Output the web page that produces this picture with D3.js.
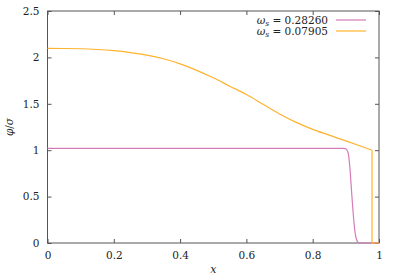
<!DOCTYPE html>
<html>
<head>
<meta charset="utf-8">
<script src="https://cdn.jsdelivr.net/npm/d3@7"></script>
<style>
  body { margin: 0; background: #fff; }
  svg { display: block; }
  svg text { font-family: "DejaVu Serif", "Liberation Serif", serif !important; fill: #222; }
</style>
</head>
<body>
<svg id="chart" width="399" height="279"></svg>
<script>
// series
const pinkX = [0, 0.5, 0.89, 0.898, 0.903, 0.908, 0.912, 0.916, 0.92, 0.924, 0.928, 0.932, 0.936, 0.94, 0.97, 1];
const pinkY = [1.02, 1.02, 1.02, 1.017, 1.005, 0.95, 0.82, 0.62, 0.42, 0.24, 0.11, 0.04, 0.01, 0, 0, 0];

const orangeX = [0, 0.05, 0.1, 0.15, 0.2, 0.25, 0.3, 0.35, 0.4, 0.45, 0.5, 0.55, 0.6, 0.65, 0.7, 0.75, 0.8, 0.85, 0.9, 0.95, 0.979];
const orangeY = [2.097, 2.096, 2.093, 2.085, 2.072, 2.052, 2.025, 1.985, 1.93, 1.86, 1.78, 1.69, 1.60, 1.495, 1.39, 1.30, 1.225, 1.162, 1.10, 1.037, 1.00];
// drop to zero at the edge
const orangeTailX = [0.979, 0.979, 1];
const orangeTailY = [1.00, 0, 0];

const xTicks = [0, 0.2, 0.4, 0.6, 0.8, 1];
const yTicks = [0, 0.5, 1, 1.5, 2, 2.5];

const legendLabels = ["0.28260", "0.07905"];
const colors = ["#d57bb8", "#ffb22e"];

const svg = d3.select('#chart');
const margin = { top: 11, right: 20, bottom: 36, left: 47.5 };
const width = 399 - margin.left - margin.right;
const height = 279 - margin.top - margin.bottom;

const x = d3.scaleLinear().domain([0, 1]).range([0, width]);
const y = d3.scaleLinear().domain([0, 2.5]).range([height, 0]);

const g = svg.append('g')
    .attr('transform', `translate(${margin.left},${margin.top})`);

const fmt = d => d3.format('')(d);
const serif = '"DejaVu Serif", "Liberation Serif", serif';

// axes with inward ticks on all four sides
const axisStyle = sel => {
    sel.attr('font-family', serif);
    sel.select('.domain').remove();
    sel.selectAll('line').attr('stroke', '#555');
    sel.selectAll('text').style('font-size', '10.5px').style('font-family', serif).attr('fill', '#222');
};

g.append('g')
    .attr('transform', `translate(0,${height})`)
    .call(d3.axisBottom(x).tickValues(xTicks).tickFormat(fmt).tickSize(-4).tickPadding(9))
    .call(axisStyle);

g.append('g')
    .call(d3.axisTop(x).tickValues(xTicks).tickFormat('').tickSize(-4))
    .call(axisStyle);

g.append('g')
    .call(d3.axisLeft(y).tickValues(yTicks).tickFormat(fmt).tickSize(-4).tickPadding(8))
    .call(axisStyle);

g.append('g')
    .attr('transform', `translate(${width},0)`)
    .call(d3.axisRight(y).tickValues(yTicks).tickFormat('').tickSize(-4))
    .call(axisStyle);

g.append('rect')
    .attr('width', width)
    .attr('height', height)
    .attr('fill', 'none')
    .attr('stroke', '#555')
    .attr('stroke-width', 1);

const line = d3.line()
    .x(d => x(d[0]))
    .y(d => y(d[1]));

g.append('path')
    .datum(d3.zip(pinkX, pinkY))
    .attr('fill', 'none')
    .attr('stroke', colors[0])
    .attr('stroke-width', 1.2)
    .attr('d', line.curve(d3.curveMonotoneX));

g.append('path')
    .datum(d3.zip(orangeX, orangeY))
    .attr('fill', 'none')
    .attr('stroke', colors[1])
    .attr('stroke-width', 1.2)
    .attr('d', line.curve(d3.curveMonotoneX));

g.append('path')
    .datum(d3.zip(orangeTailX, orangeTailY))
    .attr('fill', 'none')
    .attr('stroke', colors[1])
    .attr('stroke-width', 1.2)
    .attr('d', line.curve(d3.curveLinear));

// legend
const legend = g.append('g').attr('transform', `translate(${width - 13},0)`);
legendLabels.forEach((lab, i) => {
    const row = legend.append('g').attr('transform', `translate(0,${9 + i * 11})`);
    const t = row.append('text')
        .attr('x', -38)
        .attr('y', 3.5)
        .attr('text-anchor', 'end')
        .style('font-size', '10.5px');
    t.append('tspan').attr('font-style', 'italic').text('ω');
    t.append('tspan').attr('font-style', 'italic').attr('dy', 2).style('font-size', '7.5px').text('s');
    t.append('tspan').attr('dy', -2).text(' = ' + lab);
    row.append('line')
        .attr('x1', -30).attr('x2', 0)
        .attr('stroke', colors[i])
        .attr('stroke-width', 1.2);
});

// axis titles
svg.append('text')
    .attr('x', margin.left + width / 2)
    .attr('y', 273)
    .attr('text-anchor', 'middle')
    .attr('font-style', 'italic')
    .style('font-size', '11px')
    .text('x');

svg.append('text')
    .attr('transform', `translate(13,${margin.top + height / 2}) rotate(-90)`)
    .attr('text-anchor', 'middle')
    .style('font-size', '10.5px')
    .html('<tspan font-style="italic">φ</tspan>/<tspan font-style="italic">σ</tspan>');
</script>
</body>
</html>
